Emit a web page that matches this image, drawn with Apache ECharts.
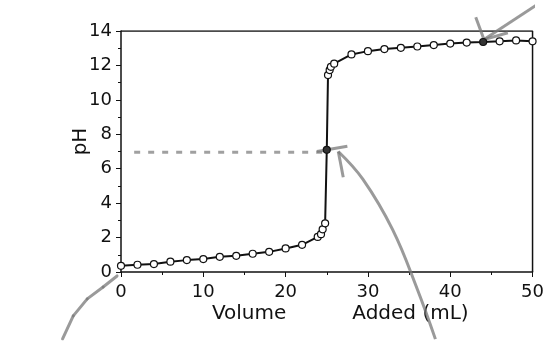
<!DOCTYPE html>
<html>
<head>
<meta charset="utf-8">
<script src="https://cdn.jsdelivr.net/npm/echarts@6/dist/echarts.min.js"></script>
<style>
  html, body { margin: 0; padding: 0; background: #fff; }
  #chart { width: 547px; height: 341px; }
</style>
</head>
<body>
<div id="chart"></div>
<script>
// titration readings
const volume = [0, 2, 4, 6, 8, 10, 12, 14, 16, 18, 20, 22, 23.9, 24.3, 24.5, 24.8, 25,
  25.15, 25.35, 25.5, 25.9, 28, 30, 32, 34, 36, 38, 40, 42, 44, 46, 48, 50]
const pH = [0.36, 0.42, 0.46, 0.6, 0.69, 0.75, 0.88, 0.94, 1.06, 1.17, 1.37, 1.58, 2.04, 2.2, 2.48, 2.83, 7.1,
  11.44, 11.73, 11.92, 12.1, 12.64, 12.83, 12.95, 13.02, 13.1, 13.18, 13.27, 13.33, 13.36, 13.4, 13.45, 13.4]
const markedVolumes = [25, 44]

// hand-drawn pencil marks on the scan
const guideVolume = [1.6, 25]
const guidePH = [6.95, 6.95]
const arrowA = [[-7.1, -3.88], [-5.8, -2.55], [-4.1, -1.56], [-2.17, -0.87], [-0.48, -0.23]]
const arrowB = [[38.2, -3.9], [36.0, -1.0], [33.0, 2.46], [29.4, 5.38], [26.4, 7.0]]
const arrowBHead = [[23.8, 7.0], [27.5, 7.3]]
const arrowBTail = [[26.4, 7.0], [27.0, 5.5]]
const arrowC = [[51.4, 15.8], [44.1, 13.5]]
const arrowCHead = [[43.1, 14.8], [44.1, 13.5], [47.0, 13.9]]

const xTicks = [0, 10, 20, 30, 40, 50]
const yTicks = [0, 2, 4, 6, 8, 10, 12, 14]

const chart = echarts.init(document.getElementById('chart'))
const font = 'DejaVu Sans, Arial, sans-serif'
const pencil = { color: 'rgba(120,120,120,0.75)', width: 3 }

const pencilSeries = (pts, smooth) => ({
  type: 'line',
  data: pts,
  smooth: smooth ? 0.4 : false,
  symbol: 'none',
  clip: false,
  silent: true,
  lineStyle: pencil,
  z: 1
})

chart.setOption({
  animation: false,
  backgroundColor: '#fff',
  grid: { left: 121, right: 12, top: 31, bottom: 69 },
  xAxis: {
    type: 'value',
    min: xTicks[0],
    max: xTicks[xTicks.length - 1],
    interval: 10,
    name: '{a|Volume}{gap|}{a|Added (mL)}',
    nameLocation: 'middle',
    nameGap: 32,
    nameMoveOverlap: false,
    nameTextStyle: {
      padding: [0, 0, 0, 27],
      rich: {
        a: { fontFamily: font, fontSize: 20, color: '#111' },
        gap: { width: 66 }
      }
    },
    axisLine: { lineStyle: { color: '#111', width: 1.5 } },
    axisTick: { inside: false, length: 5, lineStyle: { color: '#111' } },
    minorTick: { show: true, splitNumber: 2, length: 3, lineStyle: { color: '#111' } },
    axisLabel: { color: '#111', fontFamily: font, fontSize: 18, margin: 11 },
    splitLine: { show: false }
  },
  yAxis: {
    type: 'value',
    min: yTicks[0],
    max: yTicks[yTicks.length - 1],
    interval: 2,
    name: 'pH',
    nameLocation: 'middle',
    nameGap: 30,
    nameMoveOverlap: false,
    nameTextStyle: { fontFamily: font, fontSize: 20, color: '#111', padding: [0, 0, 0, 20] },
    axisLine: { lineStyle: { color: '#111', width: 1.5 } },
    axisTick: { inside: false, length: 5, lineStyle: { color: '#111' } },
    minorTick: { show: true, splitNumber: 2, length: 3, lineStyle: { color: '#111' } },
    axisLabel: { color: '#111', fontFamily: font, fontSize: 18, margin: 9 },
    splitLine: { show: false }
  },
  series: [
    // plot frame (top and right edges)
    {
      type: 'line',
      data: [[0, 14], [50, 14], [50, 0]],
      symbol: 'none',
      silent: true,
      lineStyle: { color: '#111', width: 1.5 },
      z: 1
    },
    {
      type: 'line',
      data: guideVolume.map((v, i) => [v, guidePH[i]]),
      symbol: 'none',
      silent: true,
      lineStyle: { color: 'rgba(120,120,120,0.7)', width: 3, type: [6, 8] },
      z: 1
    },
    {
      type: 'line',
      data: volume.map((v, i) => {
        const pt = { value: [v, pH[i]] }
        if (markedVolumes.includes(v)) pt.itemStyle = { color: '#333' }
        return pt
      }),
      symbol: 'circle',
      symbolSize: 7,
      clip: false,
      itemStyle: { color: '#fff', borderColor: '#111', borderWidth: 1.2 },
      lineStyle: { color: '#111', width: 2 },
      z: 3
    },
    pencilSeries(arrowB, true),
    pencilSeries(arrowBHead),
    pencilSeries(arrowBTail),
    pencilSeries(arrowC),
    pencilSeries(arrowCHead)
  ]
})

// the lower-left pencil stroke sits outside the x range, so place it via the axes' scales
const arrowAPixels = arrowA.map(([v, p]) => [
  chart.convertToPixel({ xAxisIndex: 0 }, v),
  chart.convertToPixel({ yAxisIndex: 0 }, p)
])
chart.setOption({
  graphic: arrowAPixels.slice(1).map((pt, i) => ({
    type: 'line',
    silent: true,
    z: 50,
    shape: { x1: arrowAPixels[i][0], y1: arrowAPixels[i][1], x2: pt[0], y2: pt[1] },
    style: { stroke: pencil.color, lineWidth: pencil.width, lineCap: 'round' }
  }))
})
</script>
</body>
</html>
